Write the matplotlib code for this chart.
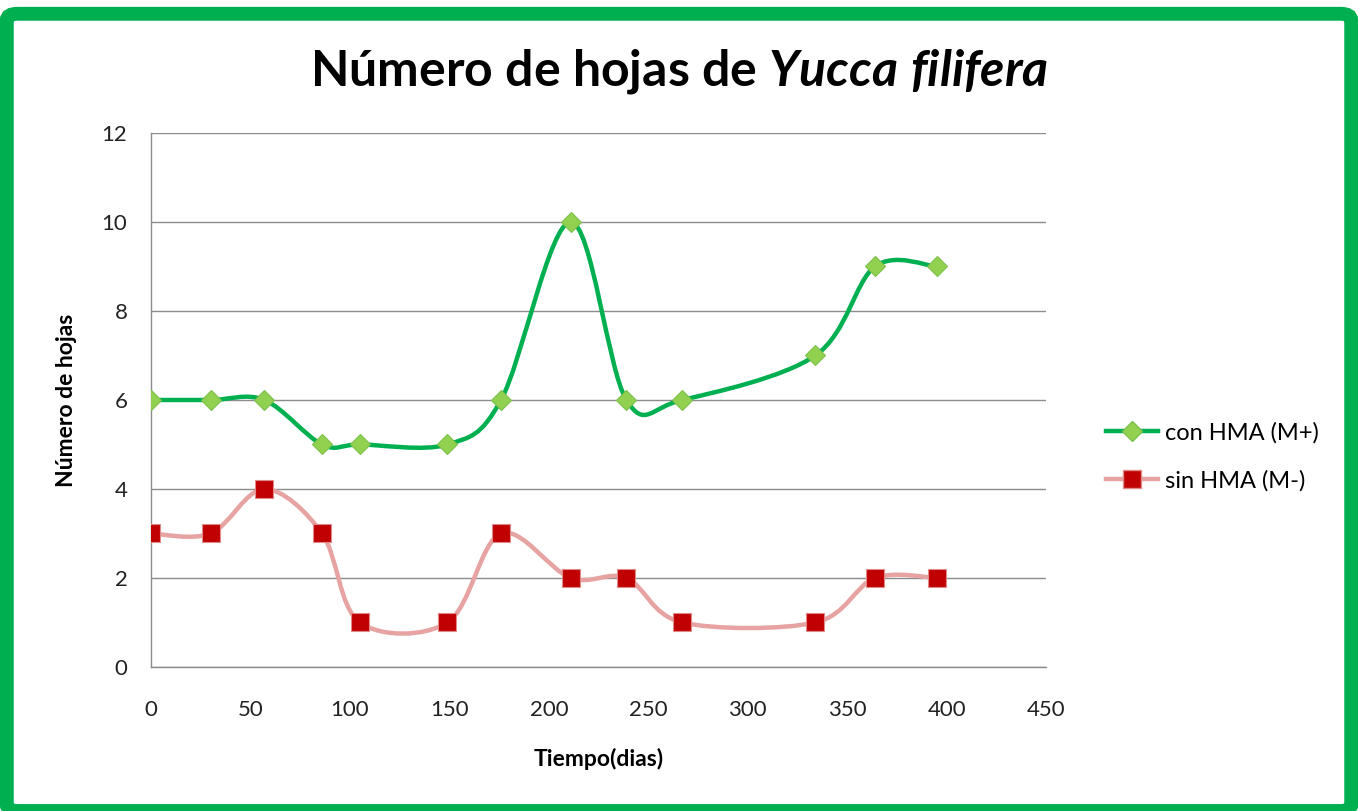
import numpy as np
import matplotlib.pyplot as plt
from matplotlib.path import Path
from matplotlib.patches import PathPatch, FancyBboxPatch
from matplotlib.lines import Line2D

plt.rcParams['font.family'] = ['Lato', 'DejaVu Sans']
plt.rcParams['mathtext.fontset'] = 'custom'
plt.rcParams['mathtext.it'] = 'Lato:italic:bold'
plt.rcParams['mathtext.rm'] = 'Lato:bold'

## data
dias = [0, 30, 57, 86, 105, 149, 176, 211, 239, 267, 334, 364, 395]
con_hma = [6, 6, 6, 5, 5, 5, 6, 10, 6, 6, 7, 9, 9]
sin_hma = [3, 3, 4, 3, 1, 1, 3, 2, 2, 1, 1, 2, 2]
xticks = [0, 50, 100, 150, 200, 250, 300, 350, 400, 450]
yticks = [0, 2, 4, 6, 8, 10, 12]


def smooth_path(x, y):
    # Excel-like smoothed line: cubic bezier, catmull-rom control points
    p = np.column_stack([x, y]).astype(float)
    n = len(p)
    verts = [p[0]]
    codes = [Path.MOVETO]
    for i in range(n - 1):
        p0 = p[max(i - 1, 0)]
        p3 = p[min(i + 2, n - 1)]
        c1 = p[i] + (p[i + 1] - p0) / 6.0
        c2 = p[i + 1] - (p3 - p[i]) / 6.0
        verts += [c1, c2, p[i + 1]]
        codes += [Path.CURVE4] * 3
    return Path(verts, codes)


fig = plt.figure(figsize=(13.58, 8.11), dpi=100)

# green frame round the chart
frame = FancyBboxPatch((0.005, 0.0), 0.99, 0.983, boxstyle='round,pad=0,rounding_size=0.008',
                       transform=fig.transFigure, facecolor='none', edgecolor='#00B050',
                       linewidth=10, zorder=5)
fig.patches.append(frame)

ax = fig.add_axes([0.1112, 0.1776, 0.6591, 0.6584])
ax.set_facecolor('none')

green = '#00B050'
pink = '#E6A3A2'

ax.add_patch(PathPatch(smooth_path(dias, con_hma), facecolor='none', edgecolor=green,
                       linewidth=3.2, capstyle='round', zorder=3))
ax.add_patch(PathPatch(smooth_path(dias, sin_hma), facecolor='none', edgecolor=pink,
                       linewidth=3.2, capstyle='round', zorder=3))
ax.plot(dias, con_hma, linestyle='none', marker='D', markersize=10,
        markerfacecolor='#92D050', markeredgecolor='#7CC04A', markeredgewidth=0.8, zorder=4)
ax.plot(dias, sin_hma, linestyle='none', marker='s', markersize=13.5,
        markerfacecolor='#C00000', markeredgecolor='#E08A8A', markeredgewidth=0.8, zorder=4)

ax.set_xlim(0, 450)
ax.set_ylim(0, 12)
ax.set_xticks(xticks)
ax.set_yticks(yticks)
ax.tick_params(length=0, labelsize=16, labelcolor='#222222')
ax.tick_params(axis='x', pad=24)
ax.tick_params(axis='y', pad=17)
ax.grid(axis='y', color='#8C8C8C', linewidth=1)
ax.set_axisbelow(True)
for s in ['top', 'right']:
    ax.spines[s].set_visible(False)
for s in ['left', 'bottom']:
    ax.spines[s].set_color('#8C8C8C')
    ax.spines[s].set_linewidth(1)

ax.set_xlabel('Tiempo(dias)', fontsize=16.5, fontweight='bold', labelpad=20)
ax.set_ylabel('Número de hojas', fontsize=16.5, fontweight='bold', labelpad=18)

fig.text(0.5, 0.912, r'Número de hojas de $Yucca\ filifera$', ha='center', va='center',
         fontsize=36, fontweight='bold')

handles = [
    Line2D([], [], color=green, linewidth=3.2, marker='D', markersize=10,
           markerfacecolor='#92D050', markeredgecolor='#7CC04A'),
    Line2D([], [], color=pink, linewidth=3.2, marker='s', markersize=13.5,
           markerfacecolor='#C00000', markeredgecolor='#E08A8A'),
]
fig.legend(handles, ['con HMA (M+)', 'sin HMA (M-)'], loc='center left',
           bbox_to_anchor=(0.799, 0.437), frameon=False, fontsize=17,
           handlelength=2.2, labelspacing=1.1, handletextpad=0.3)

plt.savefig('out.png', dpi=100)
